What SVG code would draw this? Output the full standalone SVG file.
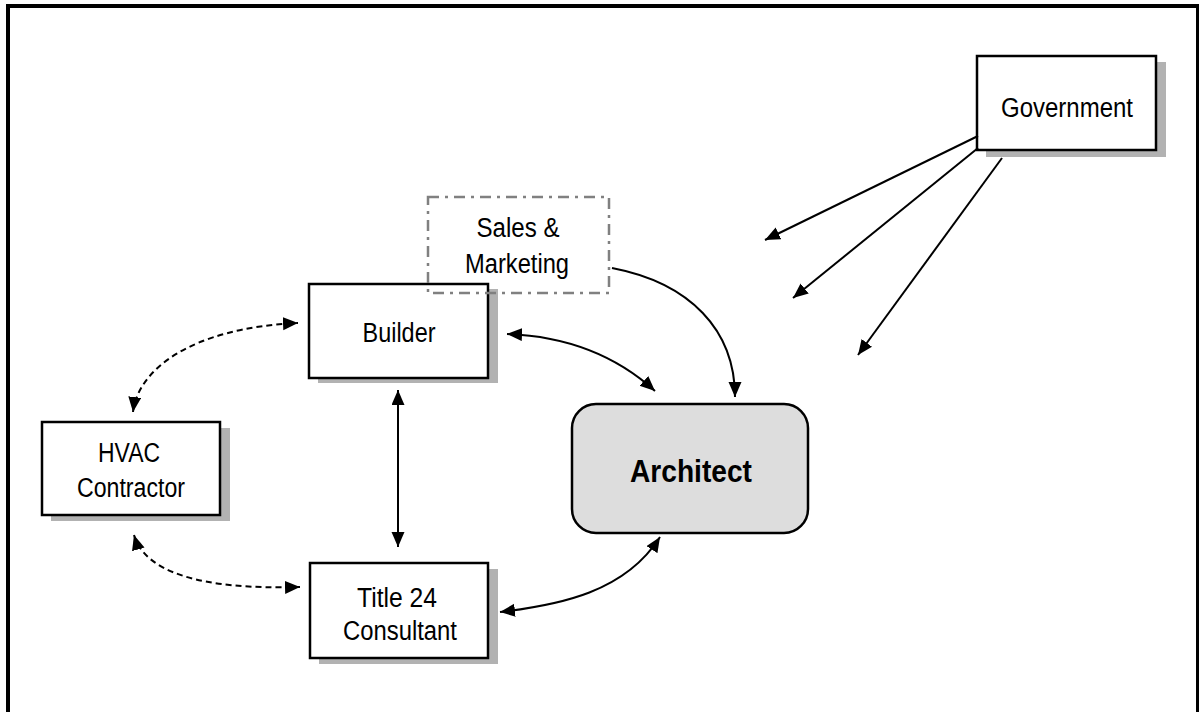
<svg xmlns="http://www.w3.org/2000/svg" width="1199" height="712" viewBox="0 0 1199 712">
<style>
.box{fill:#fff;stroke:#000;stroke-width:2.5}
.sh{fill:#b2b2b2;stroke:none}
.t{font-family:"Liberation Sans",Arial,sans-serif;font-size:27px;fill:#000;text-anchor:middle}
.b{font-weight:bold;font-size:31px}
.c{fill:none;stroke:#000;stroke-width:2}
.d{stroke-dasharray:6 4}
</style>
<defs>
<marker id="ah" markerUnits="userSpaceOnUse" markerWidth="16" markerHeight="14" refX="15" refY="6.5" orient="auto-start-reverse" viewBox="0 0 16 14">
<path d="M0,0 L15,6.5 L0,13 z" fill="#000"/>
</marker>
</defs>
<rect x="8" y="6" width="1190" height="720" fill="#fff" stroke="#000" stroke-width="4"/>
<g id="government">
<rect class="sh" x="986" y="62" width="180" height="95"/>
<rect class="box" x="977" y="56" width="179" height="94"/>
<text class="t" x="1067" y="117" textLength="132" lengthAdjust="spacingAndGlyphs">Government</text>
</g>
<g id="builder">
<rect class="sh" x="318" y="289" width="180" height="94"/>
<rect class="box" x="309" y="284" width="179" height="94"/>
<text class="t" x="399" y="342" textLength="73" lengthAdjust="spacingAndGlyphs">Builder</text>
</g>
<g id="sales-marketing">
<rect x="428" y="197" width="181" height="96" fill="none" stroke="#808080" stroke-width="2.5" stroke-dasharray="11 6 3 6"/>
<text class="t" x="518" y="237" textLength="83" lengthAdjust="spacingAndGlyphs">Sales &amp;</text>
<text class="t" x="517" y="273" textLength="104" lengthAdjust="spacingAndGlyphs">Marketing</text>
</g>
<g id="hvac">
<rect class="sh" x="51" y="428" width="179" height="93"/>
<rect class="box" x="42" y="422" width="178" height="93"/>
<text class="t" x="129" y="462" textLength="62" lengthAdjust="spacingAndGlyphs">HVAC</text>
<text class="t" x="131" y="497" textLength="108" lengthAdjust="spacingAndGlyphs">Contractor</text>
</g>
<g id="title24">
<rect class="sh" x="319" y="569" width="179" height="95"/>
<rect class="box" x="310" y="563" width="178" height="95"/>
<text class="t" x="397" y="607" textLength="80" lengthAdjust="spacingAndGlyphs">Title 24</text>
<text class="t" x="400" y="640" textLength="114" lengthAdjust="spacingAndGlyphs">Consultant</text>
</g>
<g id="architect">
<rect x="572" y="404" width="236" height="129" rx="24" ry="24" fill="#dddddd" stroke="#000" stroke-width="2.5"/>
<text class="t b" x="691" y="482" textLength="122" lengthAdjust="spacingAndGlyphs">Architect</text>
</g>
<g id="connectors">
<path class="c d" d="M133,412 C138,370 190,328 298,323" marker-start="url(#ah)" marker-end="url(#ah)"/>
<path class="c d" d="M134,535 C145,572 200,590 300,587" marker-start="url(#ah)" marker-end="url(#ah)"/>
<path class="c" d="M398,390 L398,547" marker-start="url(#ah)" marker-end="url(#ah)"/>
<path class="c" d="M507,334 C560,336 612,352 655,391" marker-start="url(#ah)" marker-end="url(#ah)"/>
<path class="c" d="M500,612 C560,605 625,592 660,537" marker-start="url(#ah)" marker-end="url(#ah)"/>
<path class="c" d="M612,268 C690,283 735,330 735,397" marker-end="url(#ah)"/>
<path class="c" d="M978,136 L765,240" marker-end="url(#ah)"/>
<path class="c" d="M978,148 L793,298" marker-end="url(#ah)"/>
<path class="c" d="M1002,158 L858,355" marker-end="url(#ah)"/>
</g>
</svg>
